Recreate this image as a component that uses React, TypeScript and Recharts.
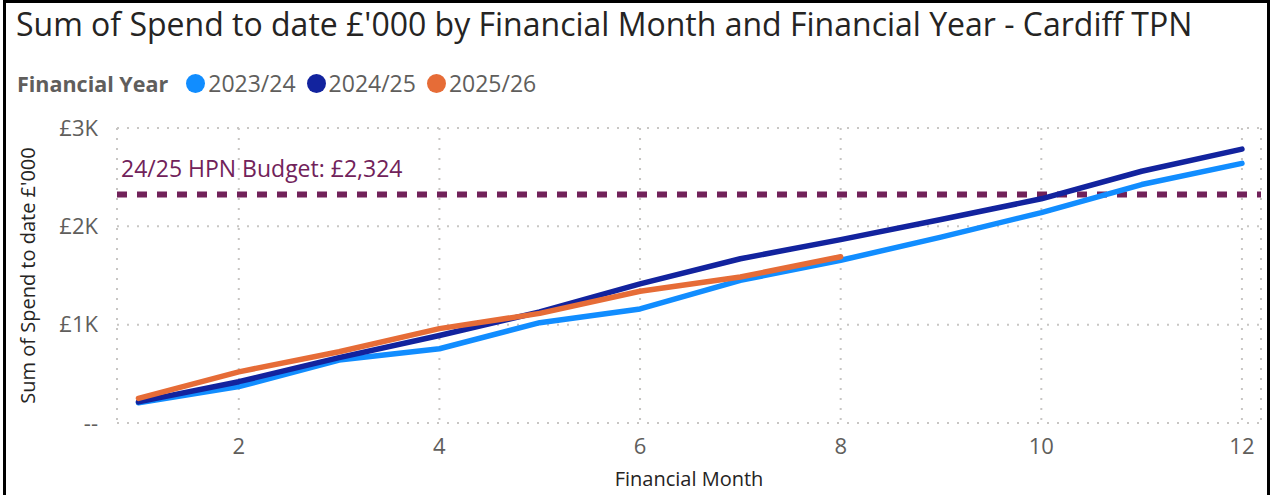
import React from 'react';
import {
  LineChart,
  Line,
  XAxis,
  YAxis,
  CartesianGrid,
  ReferenceLine,
} from 'recharts';

const months = [1, 2, 3, 4, 5, 6, 7, 8, 9, 10, 11, 12];
const fy2324 = [205, 370, 640, 755, 1020, 1160, 1450, 1655, 1890, 2140, 2425, 2640];
const fy2425 = [215, 420, 665, 890, 1130, 1415, 1670, 1865, 2070, 2280, 2560, 2785];
const fy2526 = [250, 520, 725, 960, 1115, 1340, 1485, 1690];
const budget = 2324;
const xTicks = [2, 4, 6, 8, 10, 12];
const yTicks = [0, 1000, 2000, 3000];

const series = [
  { key: 'fy2324', name: '2023/24', color: '#118DFF' },
  { key: 'fy2425', name: '2024/25', color: '#12239E' },
  { key: 'fy2526', name: '2025/26', color: '#E66C37' },
];

const data = months.map((m, i) => ({
  month: m,
  fy2324: fy2324[i],
  fy2425: fy2425[i],
  fy2526: fy2526[i],
}));

const font = "'Open Sans', sans-serif";
const grey = '#605E5C';

const yFmt = (v: number) => (v === 0 ? '--' : `£${v / 1000}K`);

const App = () => {
  return (
    <div style={{ position: 'fixed', left: 0, top: 0, width: 1279, height: 495, background: '#fff', overflow: 'hidden' }}>
      <div
        style={{
          position: 'absolute',
          left: 3,
          top: 0,
          width: 1261,
          height: 500,
          border: '3px solid #000',
        }}
      />
      <div
        style={{
          position: 'absolute',
          left: 16,
          top: 2,
          fontFamily: font,
          fontSize: 32,
          color: '#252423',
          whiteSpace: 'nowrap',
        }}
      >
        Sum of Spend to date £'000 by Financial Month and Financial Year - Cardiff TPN
      </div>
      <div
        style={{
          position: 'absolute',
          left: 17,
          top: 67,
          display: 'flex',
          alignItems: 'center',
          fontFamily: font,
          fontSize: 23,
          color: grey,
          whiteSpace: 'nowrap',
        }}
      >
        <span style={{ fontWeight: 700, fontSize: 21.5, marginRight: 18 }}>Financial Year</span>
        {series.map((s) => (
          <span key={s.key} style={{ display: 'flex', alignItems: 'center', marginRight: 11 }}>
            <span
              style={{
                width: 19,
                height: 19,
                borderRadius: 10,
                background: s.color,
                display: 'inline-block',
                marginRight: 3,
              }}
            />
            {s.name}
          </span>
        ))}
      </div>
      <div style={{ position: 'absolute', left: 0, top: 0 }}>
        <LineChart
          width={1279}
          height={495}
          data={data}
          margin={{ top: 128, right: 18, left: 0, bottom: 0 }}
        >
          <CartesianGrid stroke='#C8C6C4' strokeWidth={2} strokeDasharray='2 8' />
          <XAxis
            dataKey='month'
            type='number'
            domain={[0.786, 12.19]}
            allowDataOverflow
            ticks={xTicks}
            height={72}
            axisLine={false}
            tickLine={false}
            tickSize={0}
            tickMargin={15}
            tick={{ fill: grey, fontSize: 22, fontFamily: font }}
            label={{
              value: 'Financial Month',
              position: 'insideBottom',
              offset: 9,
              style: { fill: '#252423', fontSize: 20, fontFamily: font },
            }}
          />
          <YAxis
            type='number'
            domain={[0, 3000]}
            ticks={yTicks}
            width={117}
            axisLine={false}
            tickLine={false}
            tickSize={0}
            tickMargin={19}
            tickFormatter={yFmt}
            tick={{ fill: grey, fontSize: 22, fontFamily: font }}
            label={{
              value: "Sum of Spend to date £'000",
              angle: -90,
              position: 'insideLeft',
              offset: 28,
              style: { textAnchor: 'middle', fill: '#252423', fontSize: 20, fontFamily: font },
            }}
          />
          <ReferenceLine
            y={budget}
            stroke='#71225A'
            strokeWidth={6}
            strokeDasharray='10 10'
            label={(props: any) => (
              <text
                x={props.viewBox.x + 4}
                y={props.viewBox.y - 17}
                fill='#71225A'
                fontSize={23}
                fontFamily={font}
              >
                24/25 HPN Budget: £2,324
              </text>
            )}
          />
          {series.map((s) => (
            <Line
              key={s.key}
              type='linear'
              dataKey={s.key}
              name={s.name}
              stroke={s.color}
              strokeWidth={5.5}
              strokeLinecap='round'
              strokeLinejoin='round'
              dot={false}
              activeDot={false}
              isAnimationActive={false}
            />
          ))}
        </LineChart>
      </div>
    </div>
  );
};

export default App;
